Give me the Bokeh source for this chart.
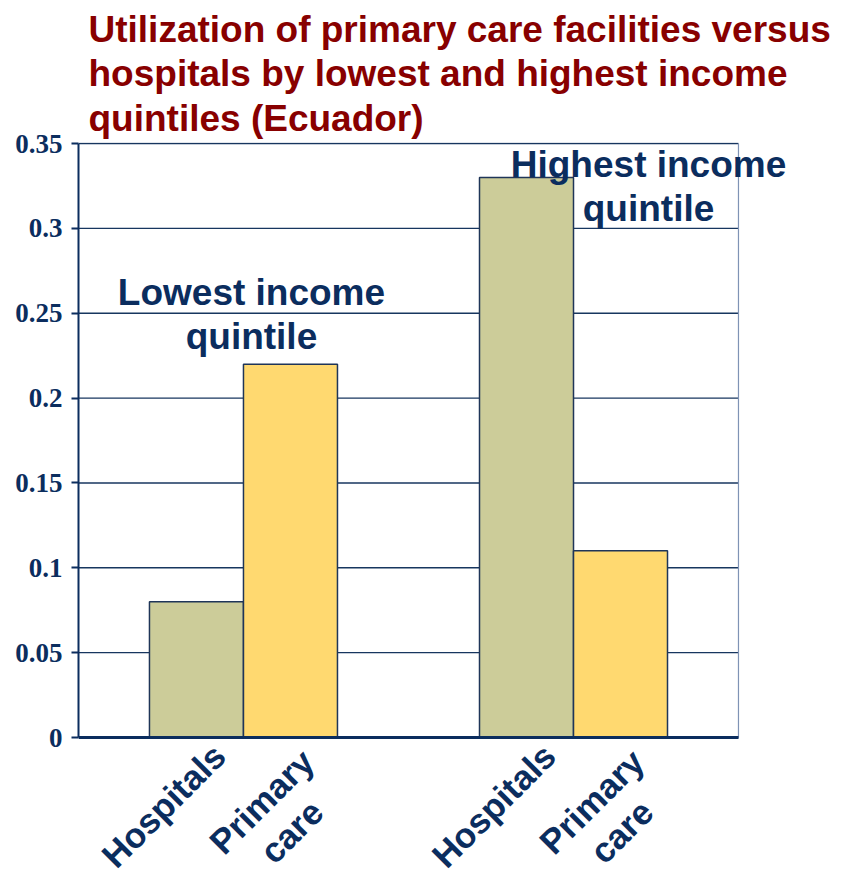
import math
from bokeh.plotting import figure
from bokeh.models import Range1d, FixedTicker, Label, ColumnDataSource
from bokeh.embed import file_html
from bokeh.resources import INLINE

# ---- data ----
bar_labels = ["Hospitals", "Primary\ncare", "Hospitals", "Primary\ncare"]
bar_groups = ["Lowest income quintile", "Lowest income quintile",
              "Highest income quintile", "Highest income quintile"]
bar_values = [0.08, 0.22, 0.33, 0.11]
bar_colors = ["#CCCC99", "#FFD970", "#CCCC99", "#FFD970"]
y_ticks = [0.0, 0.05, 0.1, 0.15, 0.2, 0.25, 0.3, 0.35]
y_tick_labels = ["0", "0.05", "0.1", "0.15", "0.2", "0.25", "0.3", "0.35"]
group_notes = ["Lowest income\nquintile", "Highest income\nquintile"]
title_text = ("Utilization of primary care facilities versus\n"
              "hospitals by lowest and highest income\n"
              "quintiles (Ecuador)")

# ---- layout positions ----
bar_x = [1.255, 2.255, 4.766, 5.766]
X_END = 7.021          # right edge of the plotting box
Y_MIN, Y_MAX = 0.0, 0.35
NAVY = "#0B2D5E"
GRID = "#17365F"

src = ColumnDataSource(dict(x=bar_x, top=bar_values, color=bar_colors,
                            label=bar_labels, group=bar_groups))

p = figure(width=852, height=876, output_backend="svg", toolbar_location=None,
           x_range=Range1d(0, 8.234), y_range=Range1d(-0.0819, 0.3506),
           min_border_left=78, min_border_right=0, min_border_bottom=0,
           min_border_top=142)

p.title.text = title_text
p.title.text_font = "Liberation Sans"
p.title.text_font_style = "bold"
p.title.text_font_size = "37px"
p.title.text_color = "#880000"
p.title.align = "left"
p.title.offset = 10
p.title.standoff = 7
p.title.text_line_height = 1.09

p.xgrid.visible = False
p.ygrid.visible = False
p.outline_line_color = None
p.xaxis.visible = False

# horizontal grid lines, limited to the plotting box
p.segment(x0=[0] * len(y_ticks), y0=y_ticks, x1=[X_END] * len(y_ticks),
          y1=y_ticks, line_color=GRID, line_width=1.4)
# right border of the box
p.segment(x0=[X_END], y0=[Y_MIN], x1=[X_END], y1=[Y_MAX],
          line_color="#7F93B5", line_width=1.2)

p.vbar(x="x", top="top", width=1.0, bottom=0, fill_color="color",
       line_color="#1F3558", line_width=1.5, source=src)

# baseline
p.segment(x0=[0], y0=[Y_MIN], x1=[X_END], y1=[Y_MIN],
          line_color=NAVY, line_width=3)

p.yaxis.bounds = (Y_MIN, Y_MAX)
p.yaxis.ticker = FixedTicker(ticks=y_ticks)
p.yaxis.major_label_overrides = {t: s for t, s in zip(y_ticks, y_tick_labels)}
p.yaxis.major_label_text_font = "Liberation Serif"
p.yaxis.major_label_text_font_style = "bold"
p.yaxis.major_label_text_font_size = "27px"
p.yaxis.major_label_text_color = NAVY
p.yaxis.axis_line_color = NAVY
p.yaxis.axis_line_width = 2
p.yaxis.major_tick_line_color = NAVY
p.yaxis.major_tick_line_width = 2
p.yaxis.major_tick_out = 7
p.yaxis.major_tick_in = 0
p.yaxis.minor_tick_line_color = None
p.yaxis.major_label_standoff = 9

# rotated category labels below the axis
for xv, lab in zip(bar_x, bar_labels):
    two = "\n" in lab
    p.add_layout(Label(x=xv, y=0, text=lab, angle=math.pi / 4,
                       x_offset=-14 if two else -33,
                       y_offset=-79 if two else -68,
                       text_align="center", text_baseline="middle",
                       text_font="Liberation Sans", text_font_style="bold",
                       text_font_size="35px", text_color=NAVY,
                       text_line_height=1.08))

# group notes
note_pos = [(1.840, 0.2492), (6.064, 0.3247)]
for (nx, ny), note in zip(note_pos, group_notes):
    p.add_layout(Label(x=nx, y=ny, text=note, text_align="center",
                       text_baseline="middle", text_font="Liberation Sans",
                       text_font_style="bold", text_font_size="37px",
                       text_color=NAVY, text_line_height=1.09))

open("out.html", "w").write(file_html(p, INLINE))
